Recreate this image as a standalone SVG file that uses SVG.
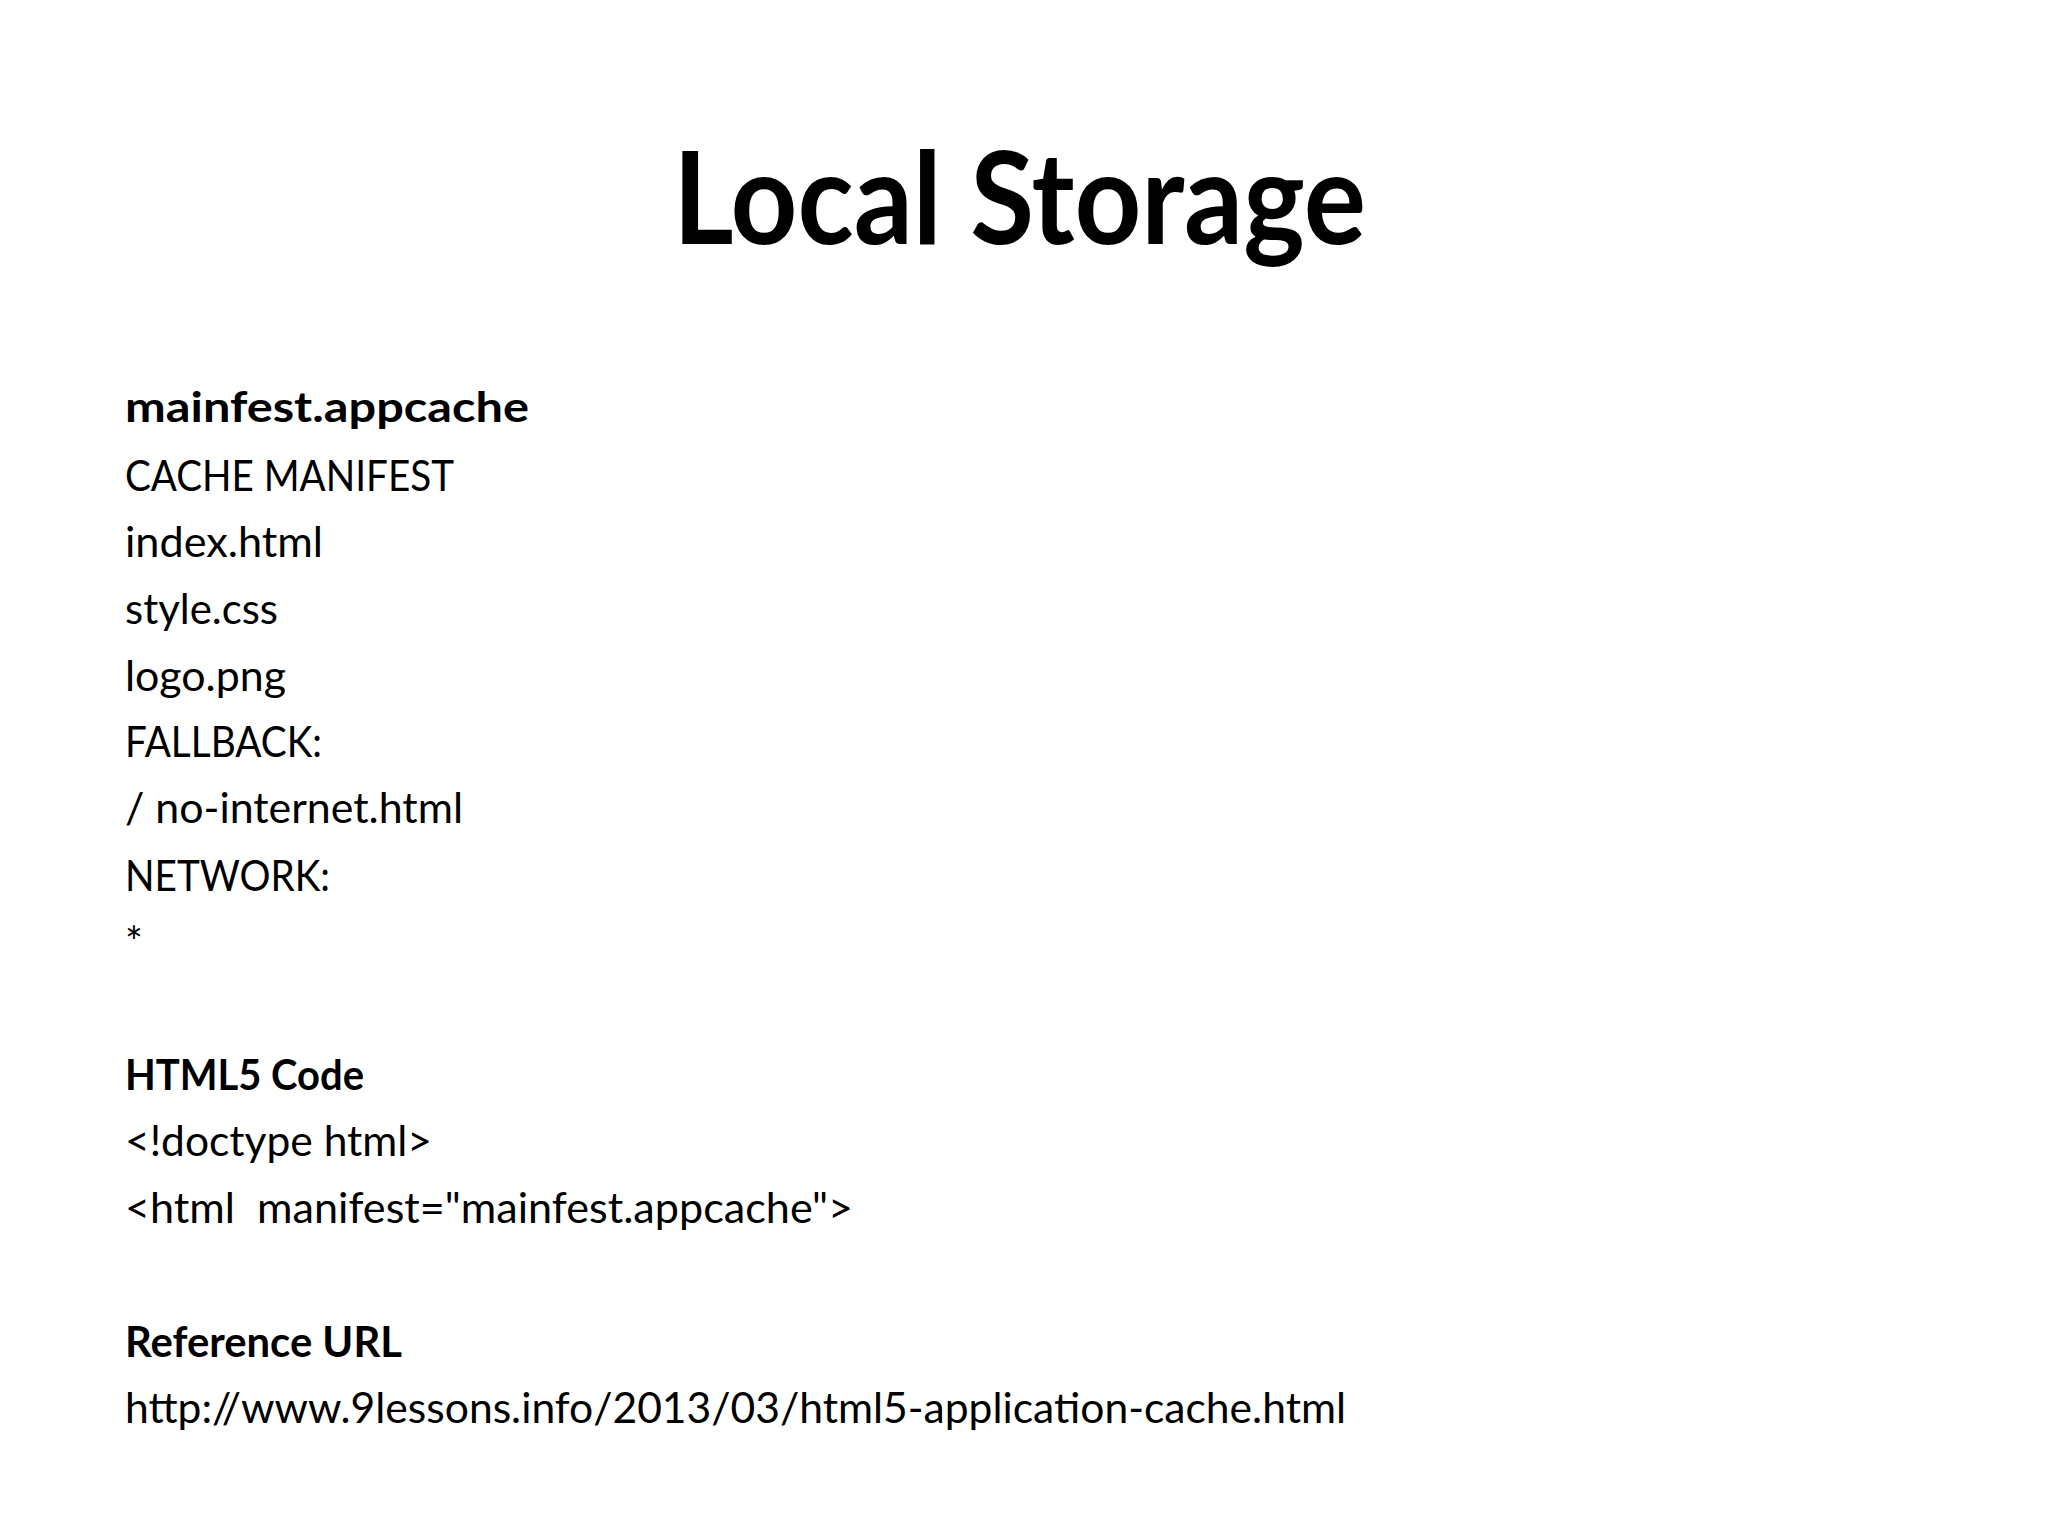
<svg xmlns="http://www.w3.org/2000/svg" width="2048" height="1536" viewBox="0 0 2048 1536">
<style>
.t{font-family:Lato,"Open Sans","Liberation Sans",sans-serif;fill:#000}
.b{font-size:42px;font-weight:normal}
.h{font-size:42px;font-weight:bold}
</style>
<rect width="2048" height="1536" fill="#fff"/>
<g id="title"><text class="t" x="673" y="244" font-size="128" font-weight="bold" textLength="693" lengthAdjust="spacingAndGlyphs">Local Storage</text></g>
<g id="manifest">
<text class="t h" x="125" y="422" textLength="404" lengthAdjust="spacingAndGlyphs">mainfest.appcache</text>
<text class="t b" x="125" y="491" textLength="329" lengthAdjust="spacingAndGlyphs">CACHE MANIFEST</text>
<text class="t b" x="125" y="557" textLength="198" lengthAdjust="spacingAndGlyphs">index.html</text>
<text class="t b" x="125" y="624" textLength="153" lengthAdjust="spacingAndGlyphs">style.css</text>
<text class="t b" x="125" y="691" textLength="161" lengthAdjust="spacingAndGlyphs">logo.png</text>
<text class="t b" x="125" y="757" textLength="197" lengthAdjust="spacingAndGlyphs">FALLBACK:</text>
<text class="t b" x="125" y="823" textLength="338" lengthAdjust="spacingAndGlyphs">/ no-internet.html</text>
<text class="t b" x="125" y="891" textLength="205" lengthAdjust="spacingAndGlyphs">NETWORK:</text>
<text class="t b" x="125" y="957">*</text>
</g>
<g id="html5">
<text class="t h" x="125" y="1090" textLength="239" lengthAdjust="spacingAndGlyphs">HTML5 Code</text>
<text class="t b" x="125" y="1156" textLength="307" lengthAdjust="spacingAndGlyphs">&lt;!doctype html&gt;</text>
<text class="t b" x="125" y="1223" textLength="728" lengthAdjust="spacingAndGlyphs" xml:space="preserve">&lt;html  manifest="mainfest.appcache"&gt;</text>
</g>
<g id="ref">
<text class="t h" x="125" y="1357" textLength="277" lengthAdjust="spacingAndGlyphs">Reference URL</text>
<text class="t b" x="125" y="1423" textLength="1221" lengthAdjust="spacingAndGlyphs">http://www.9lessons.info/2013/03/html5-application-cache.html</text>
</g>
<g id="connectors"/>
</svg>
